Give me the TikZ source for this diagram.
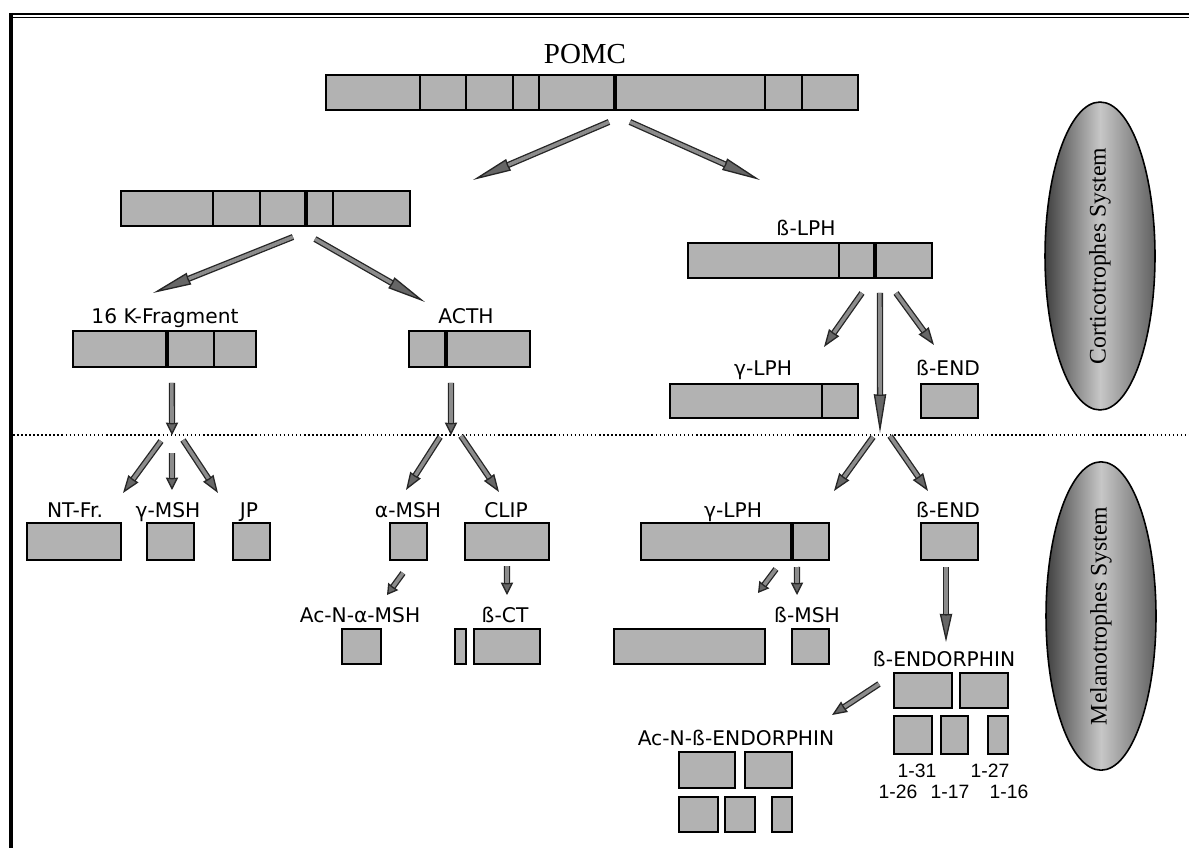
\documentclass[tikz,border=0pt]{standalone}
\usepackage{fontspec}
\usepackage{graphicx}
\setmainfont{Liberation Serif}
\newfontfamily\labelfont{DejaVu Sans}
\newfontfamily\numfont{Liberation Sans}
\usetikzlibrary{arrows.meta,calc,shapes.geometric}
\definecolor{pepgray}{RGB}{178,178,178}
\tikzset{
  pep/.style = {rectangle, draw=black, fill=pepgray, line width=1.1pt,
    inner sep=0pt, outer sep=0pt, anchor=north west},% peptide bar
  lbl/.style = {anchor=base, inner sep=0pt,
    font=\labelfont\fontsize{11.5}{13}\selectfont},
  numlbl/.style = {anchor=base, inner sep=0pt,
    font=\numfont\fontsize{11}{13}\selectfont},
  title/.style = {anchor=base, inner sep=0pt, font=\fontsize{16.5}{18}\selectfont},
  sep/.style = {line width=1.1pt},% cleavage site
  sepb/.style = {line width=2.4pt},% main cleavage site
  flow/.style = {draw=black!85, line width=0.75pt, double=black!45,
    double distance=2pt,
    -{Stealth[length=#1, width=7pt, inset'=0.2, fill=black!60]}},
  flow/.default = 7pt,
  system/.style = {ellipse, draw=black, line width=0.9pt, left color=black!75,
    right color=black!62, middle color=black!22, minimum width=2.2cm,
    minimum height=6.16cm, inner sep=0pt, font=\fontsize{13.5}{15}\selectfont},
}
\newcommand\pepcut[3][sep]{\draw[#1] ($(#2.north west)+(#3,0)$) -- ($(#2.south west)+(#3,0)$);}

\begin{document}
\begin{tikzpicture}[x=0.02cm, y=-0.02cm]
\useasboundingbox (0,0) rectangle (1189,848);
% frame
\draw[line width=1.4pt] (9,14) -- (1189,14);
\draw[line width=0.7pt] (13,17.5) -- (1189,17.5);
\draw[line width=2.1pt] (10.8,13) -- (10.8,848);
\draw[line width=0.9pt, dash pattern=on 0.9pt off 1.4pt] (13,435) -- (1189,435);

% systems
\node[system] (cortico) at (1100,256) {\rotatebox{90}{Corticotrophes System}};
\node[system] (melano) at (1101,616) {\rotatebox{90}{Melanotrophes System}};

% POMC
\node[title] (pomctxt) at (585,64) {POMC};
\node[pep, minimum width=10.64cm, minimum height=0.70cm] (pomc) at (326,75) {};
\pepcut{pomc}{94} \pepcut{pomc}{140} \pepcut{pomc}{187} \pepcut{pomc}{213}
\pepcut[sepb]{pomc}{289} \pepcut{pomc}{439} \pepcut{pomc}{476}

% first products
\node[pep, minimum width=5.78cm, minimum height=0.70cm] (pro) at (121,191) {};
\pepcut{pro}{92} \pepcut{pro}{139} \pepcut[sepb]{pro}{185} \pepcut{pro}{212}
\node[lbl] (blphtxt) at (806,235) {ß-LPH};
\node[pep, minimum width=4.88cm, minimum height=0.70cm] (blph) at (688,243) {};
\pepcut{blph}{151} \pepcut[sepb]{blph}{187}

% second products
\node[lbl] (fragtxt) at (165,323) {16 K-Fragment};
\node[pep, minimum width=3.66cm, minimum height=0.72cm] (frag) at (73,331) {};
\pepcut[sepb]{frag}{94} \pepcut{frag}{141}
\node[lbl] (acthtxt) at (466,323) {ACTH};
\node[pep, minimum width=2.42cm, minimum height=0.72cm] (acth) at (409,331) {};
\pepcut[sepb]{acth}{37}
\node[lbl] (glphtxt) at (763,375) {γ-LPH};
\node[pep, minimum width=3.76cm, minimum height=0.68cm] (glph) at (670,384) {};
\pepcut{glph}{152}
\node[lbl] (bendtxt) at (948,375) {ß-END};
\node[pep, minimum width=1.14cm, minimum height=0.68cm] (bend) at (921,384) {};

% melanotrophes row
\node[lbl] (ntfrtxt) at (75,517) {NT-Fr.};
\node[pep, minimum width=1.88cm, minimum height=0.74cm] (ntfr) at (27,523) {};
\node[lbl] (gmshtxt) at (168,517) {γ-MSH};
\node[pep, minimum width=0.94cm, minimum height=0.74cm] (gmsh) at (147,523) {};
\node[lbl] (jptxt) at (249,517) {JP};
\node[pep, minimum width=0.74cm, minimum height=0.74cm] (jp) at (233,523) {};
\node[lbl] (amshtxt) at (408,517) {α-MSH};
\node[pep, minimum width=0.74cm, minimum height=0.74cm] (amsh) at (390,523) {};
\node[lbl] (cliptxt) at (506,517) {CLIP};
\node[pep, minimum width=1.68cm, minimum height=0.74cm] (clip) at (465,523) {};
\node[lbl] (glphbtxt) at (733,517) {γ-LPH};
\node[pep, minimum width=3.76cm, minimum height=0.74cm] (glphb) at (641,523) {};
\pepcut[sepb]{glphb}{151}
\node[lbl] (bendbtxt) at (948,517) {ß-END};
\node[pep, minimum width=1.14cm, minimum height=0.74cm] (bendb) at (921,523) {};

% third row
\node[lbl] (acnatxt) at (360,622) {Ac-N-α-MSH};
\node[pep, minimum width=0.78cm, minimum height=0.70cm] (acna) at (342,629) {};
\node[lbl] (bcttxt) at (505,622) {ß-CT};
\node[pep, minimum width=0.22cm, minimum height=0.70cm] (bcta) at (455,629) {};
\node[pep, minimum width=1.32cm, minimum height=0.70cm] (bctb) at (474,629) {};
\node[pep, minimum width=3.02cm, minimum height=0.70cm] (gfrag) at (614,629) {};
\node[lbl] (bmshtxt) at (807,622) {ß-MSH};
\node[pep, minimum width=0.74cm, minimum height=0.70cm] (bmsh) at (792,629) {};

% beta-endorphin
\node[lbl] (endotxt) at (944,666) {ß-ENDORPHIN};
\node[pep, minimum width=1.16cm, minimum height=0.70cm] (endo1) at (894,673) {};
\node[pep, minimum width=0.96cm, minimum height=0.70cm] (endo2) at (960,673) {};
\node[pep, minimum width=0.76cm, minimum height=0.76cm] (endo3) at (894,716) {};
\node[pep, minimum width=0.54cm, minimum height=0.76cm] (endo4) at (941,716) {};
\node[pep, minimum width=0.40cm, minimum height=0.76cm] (endo5) at (988,716) {};
\node[numlbl] (n131) at (917,777) {1-31};
\node[numlbl] (n127) at (990,777) {1-27};
\node[numlbl] (n126) at (898,798) {1-26};
\node[numlbl] (n117) at (950,798) {1-17};
\node[numlbl] (n116) at (1009,798) {1-16};

\node[lbl] (acnetxt) at (736,745) {Ac-N-ß-ENDORPHIN};
\node[pep, minimum width=1.12cm, minimum height=0.72cm] (acne1) at (679,752) {};
\node[pep, minimum width=0.94cm, minimum height=0.72cm] (acne2) at (745,752) {};
\node[pep, minimum width=0.78cm, minimum height=0.70cm] (acne3) at (679,797) {};
\node[pep, minimum width=0.60cm, minimum height=0.70cm] (acne4) at (725,797) {};
\node[pep, minimum width=0.40cm, minimum height=0.70cm] (acne5) at (772,797) {};

% split points on the border line
\coordinate (fragcut) at (172,435);
\coordinate (acthcut) at (451,435);
\coordinate (lphcut) at (880,433);

% corticotrophes processing
\draw[flow=22pt] ($(pomc.south)+(17,12)$) -- ($(pro.north east)+(63,-11)$);
\draw[flow=22pt] ($(pomc.south)+(38,12)$) -- ($(blph.north)+(-50,-63)$);
\draw[flow=22pt] ($(pro.south)+(27.5,11)$) -- ($(frag.north)+(-11.5,-38)$);
\draw[flow=22pt] ($(pro.south)+(49.5,13)$) -- ($(acth.north)+(-44.5,-29)$);
\draw[flow=10pt] ($(blph.south)+(52,15)$) -- ($(glph.north east)+(-34,-37)$);
\draw[flow=22pt] ($(blph.south)+(70,15)$) -- (lphcut);
\draw[flow=10pt] ($(blph.south)+(86,15)$) -- ($(bend.north)+(-15.5,-39)$);
\draw[flow] ($(frag.south)+(7.5,16)$) -- (fragcut);
\draw[flow] ($(acth.south)+(-18.5,16)$) -- (acthcut);

% melanotrophes processing
\draw[flow=10pt] ($(fragcut)+(-11,6)$) -- ($(ntfr.north east)+(2,-30)$);
\draw[flow] ($(fragcut)+(0,18)$) -- ($(gmsh.north)+(1.5,-33)$);
\draw[flow=10pt] ($(fragcut)+(11,5)$) -- ($(jp.north)+(-33.5,-30)$);
\draw[flow=10pt] ($(acthcut)+(-11,2)$) -- ($(amsh.north)+(-2.5,-33)$);
\draw[flow=10pt] ($(acthcut)+(10,1)$) -- ($(clip.north)+(-8,-31)$);
\draw[flow=10pt] ($(lphcut)+(-7,4)$) -- ($(glphb.north east)+(5,-32)$);
\draw[flow=10pt] ($(lphcut)+(10,3)$) -- ($(bendb.north)+(-21.5,-32)$);
\draw[flow=6pt] ($(amsh.south)+(-5.5,13)$) -- ($(acna.north)+(25.5,-34)$);
\draw[flow] ($(clip.south)+(0,6)$) -- ($(bctb.north)+(0,-34)$);
\draw[flow=6pt] ($(glphb.south)+(41,9)$) -- ($(gfrag.north east)+(-7,-36)$);
\draw[flow] ($(glphb.south)+(62,7)$) -- ($(bmsh.north)+(-13.5,-34)$);
\draw[flow=16pt] ($(bendb.south)+(-3.5,7)$) -- ($(endo1.north)+(23,-31)$);
\draw[flow=8.5pt] ($(endo1.west)+(-15,-6.5)$) -- ($(acne2.north)+(63.5,-37)$);
\end{tikzpicture}
\end{document}
